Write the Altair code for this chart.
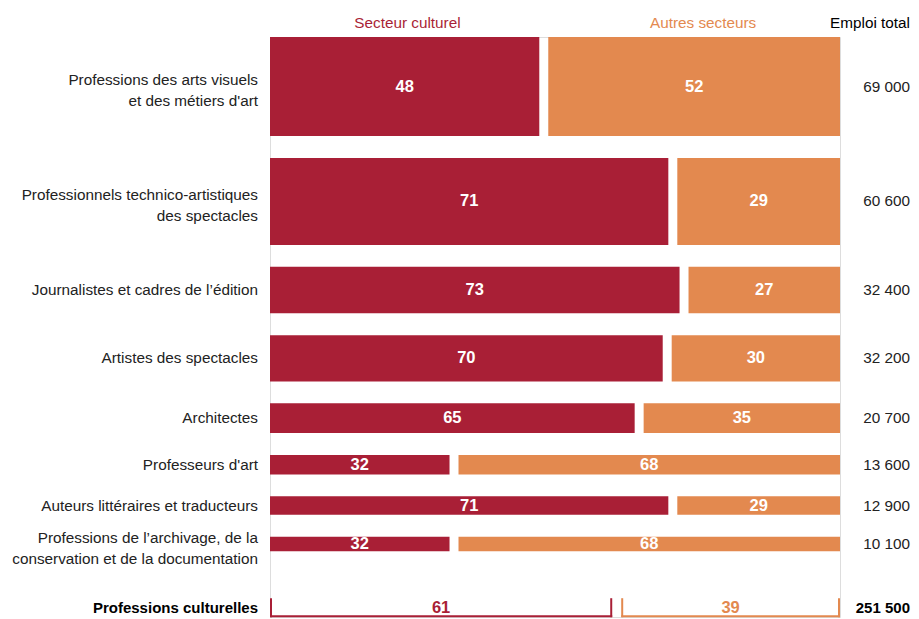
import altair as alt
import pandas as pd

# ---- data ----
professions = [
    "Professions des arts visuels\net des métiers d'art",
    "Professionnels technico-artistiques\ndes spectacles",
    "Journalistes et cadres de l’édition",
    "Artistes des spectacles",
    "Architectes",
    "Professeurs d'art",
    "Auteurs littéraires et traducteurs",
    "Professions de l’archivage, de la\nconservation et de la documentation",
]
secteur_culturel = [48, 71, 73, 70, 65, 32, 71, 32]
autres_secteurs = [52, 29, 27, 30, 35, 68, 29, 68]
emploi_total = [69000, 60600, 32400, 32200, 20700, 13600, 12900, 10100]

total_label = "Professions culturelles"
total_culturel = [61]
total_autres = [39]
total_emploi = [251500]

headers = ["Secteur culturel", "Autres secteurs", "Emploi total"]

# ---- styling / layout constants ----
RED = "#A91F36"
ORANGE = "#E3894F"
TXT = "#222222"
FONT = "Liberation Sans"
FS = 15.3
FS_VAL = 16.5
PX_PER_JOB = 0.001435   # bar thickness proportional to total employment
ROW_GAP = 21.9          # px between bars
TOTAL_GAP = 47          # px between last bar and total row
TOTAL_H = 19            # px height of total bracket
XGAP = 1.6              # gap between the two segments, in % units
LINE_H = 21
W, H = 570, 580
XMAX = 100 + XGAP
RIGHT_DX = 70


def fmt(v):
    return f"{v:,}".replace(",", " ")


df = pd.DataFrame({
    "prof": professions,
    "cult": secteur_culturel,
    "autre": autres_secteurs,
    "emploi": emploi_total,
})
df["i"] = range(len(df))
df["y0"] = (df["emploi"].cumsum() - df["emploi"]) * PX_PER_JOB + df["i"] * ROW_GAP
df["y1"] = df["y0"] + df["emploi"] * PX_PER_JOB
df["ym"] = (df["y0"] + df["y1"]) / 2
df["nlines"] = df["prof"].str.count("\n") + 1
df["ly"] = df["ym"] - (df["nlines"] - 1) * LINE_H * 0.3
df["c0"] = 0.0
df["c1"] = df["cult"]
df["a0"] = df["cult"] + XGAP
df["a1"] = XMAX
df["cm"] = df["cult"] / 2
df["am"] = df["a0"] + df["autre"] / 2
df["emploi_txt"] = df["emploi"].map(fmt)

t0 = df["y1"].iloc[-1] + TOTAL_GAP
tot = pd.DataFrame({
    "label": [total_label],
    "cult": total_culturel,
    "autre": total_autres,
    "emploi_txt": [fmt(v) for v in total_emploi],
})
tot["y0"] = t0
tot["y1"] = t0 + TOTAL_H
tot["ym"] = t0 + TOTAL_H / 2
tot["c0"] = 0.0
tot["c1"] = tot["cult"]
tot["a0"] = tot["cult"] + XGAP
tot["a1"] = XMAX
tot["cm"] = tot["cult"] / 2
tot["am"] = tot["a0"] + tot["autre"] / 2

hdr = pd.DataFrame({
    "txt": headers,
    "x": [24.5, 77.2, XMAX],
    "y": [0.0, 0.0, 0.0],
    "col": [RED, ORANGE, "#000000"],
})

xs = alt.Scale(domain=[0, XMAX], nice=False, zero=False)
ys = alt.Scale(domain=[0, H], nice=False, zero=False, reverse=True)


def X(f):
    return alt.X(f, type="quantitative", scale=xs, axis=None)


def Y(f):
    return alt.Y(f, type="quantitative", scale=ys, axis=None)


base = alt.Chart(df)

bars_c = base.mark_rect(color=RED).encode(x=X("c0"), x2="c1", y=Y("y0"), y2="y1")
bars_a = base.mark_rect(color=ORANGE).encode(x=X("a0"), x2="a1", y=Y("y0"), y2="y1")

val_style = dict(font=FONT, fontWeight="bold", fontSize=FS_VAL, color="white",
                 align="center", baseline="middle")
txt_c = base.mark_text(**val_style).encode(x=X("cm"), y=Y("ym"), text="cult:Q")
txt_a = base.mark_text(**val_style).encode(x=X("am"), y=Y("ym"), text="autre:Q")

labels = base.mark_text(font=FONT, fontSize=FS, color=TXT, align="right",
                        baseline="middle", dx=-12, lineBreak="\n",
                        lineHeight=LINE_H).encode(
    x=X("c0"), y=Y("ly"), text="prof:N")
totals = base.mark_text(font=FONT, fontSize=FS, color=TXT, align="right",
                        baseline="middle", dx=RIGHT_DX).encode(
    x=X("a1"), y=Y("ym"), text="emploi_txt:N")

hb = alt.Chart(hdr)
hdr_style = dict(font=FONT, fontSize=FS, baseline="middle", dy=-14)
h12 = hb.transform_filter(alt.datum.txt != headers[2]).mark_text(
    align="center", **hdr_style).encode(
    x=X("x"), y=Y("y"), text="txt:N", color=alt.Color("col:N", scale=None))
h3 = hb.transform_filter(alt.datum.txt == headers[2]).mark_text(
    align="right", dx=RIGHT_DX, color="black", **hdr_style).encode(
    x=X("x"), y=Y("y"), text="txt:N")

tb = alt.Chart(tot)
rule_kw = dict(strokeWidth=2)
br_c_l = tb.mark_rule(color=RED, xOffset=1, **rule_kw).encode(x=X("c0"), y=Y("y0"), y2="y1")
br_c_r = tb.mark_rule(color=RED, xOffset=-1, **rule_kw).encode(x=X("c1"), y=Y("y0"), y2="y1")
br_c_b = tb.mark_rule(color=RED, yOffset=-1, **rule_kw).encode(x=X("c0"), x2="c1", y=Y("y1"))
br_a_l = tb.mark_rule(color=ORANGE, xOffset=1, **rule_kw).encode(x=X("a0"), y=Y("y0"), y2="y1")
br_a_r = tb.mark_rule(color=ORANGE, xOffset=-1, **rule_kw).encode(x=X("a1"), y=Y("y0"), y2="y1")
br_a_b = tb.mark_rule(color=ORANGE, yOffset=-1, **rule_kw).encode(x=X("a0"), x2="a1", y=Y("y1"))

tval = dict(font=FONT, fontWeight="bold", fontSize=FS_VAL, align="center", baseline="middle")
tot_c = tb.mark_text(color=RED, **tval).encode(x=X("cm"), y=Y("ym"), text="cult:Q")
tot_a = tb.mark_text(color=ORANGE, **tval).encode(x=X("am"), y=Y("ym"), text="autre:Q")
tot_lab = tb.mark_text(font=FONT, fontWeight="bold", fontSize=15, color="black",
                       align="right", baseline="middle", dx=-12).encode(
    x=X("c0"), y=Y("ym"), text="label:N")
tot_emp = tb.mark_text(font=FONT, fontWeight="bold", fontSize=15, color="black",
                       align="right", baseline="middle", dx=RIGHT_DX).encode(
    x=X("a1"), y=Y("ym"), text="emploi_txt:N")

chart = alt.layer(
    bars_c, bars_a, txt_c, txt_a, labels, totals, h12, h3,
    br_c_l, br_c_r, br_c_b, br_a_l, br_a_r, br_a_b,
    tot_c, tot_a, tot_lab, tot_emp,
).properties(
    width=W, height=H,
    autosize=alt.AutoSizeParams(type="none"),
    padding={"left": 262, "top": 29, "right": 71, "bottom": 2},
).configure_view(stroke=None).configure(background="white")

chart.save("out.html", embed_options={"renderer": "svg", "actions": False})
